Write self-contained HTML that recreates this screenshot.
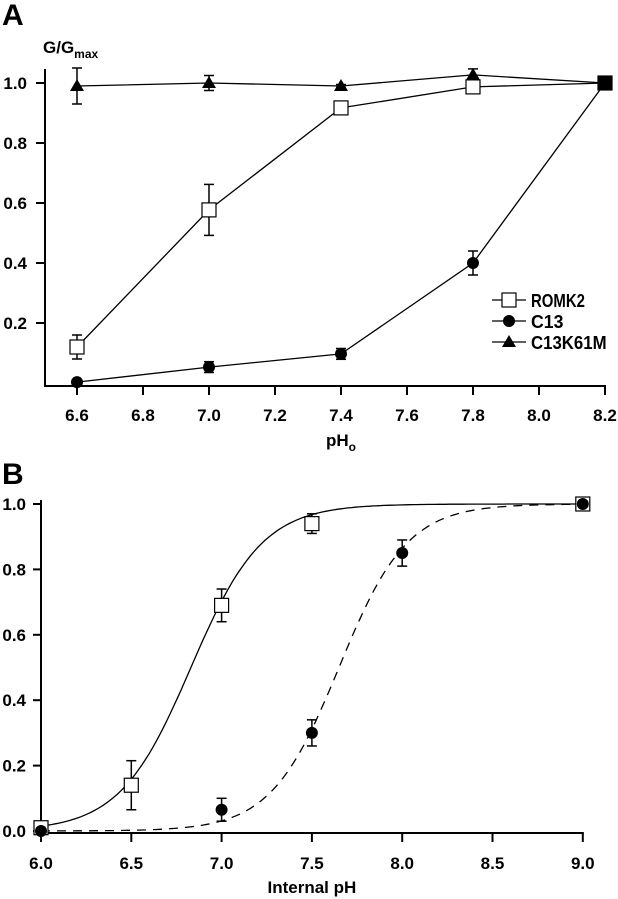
<!DOCTYPE html>
<html><head><meta charset="utf-8"><style>
body{margin:0;background:#fff}
svg{display:block;font-family:"Liberation Sans",Arial,sans-serif}
.t{font-weight:bold;font-size:17px}
</style></head><body>
<svg id="fig" width="618" height="899" viewBox="0 0 618 899" xmlns="http://www.w3.org/2000/svg"></svg>
<script>
// Panel A data
const aX = [6.6, 7.0, 7.4, 7.8, 8.2];
const aRomk2 = [0.12, 0.577, 0.917, 0.987, 1.0];
const aRomk2Err = [0.04, 0.085, 0, 0, 0];
const aC13 = [0.003, 0.053, 0.097, 0.40, 1.0];
const aC13Err = [0, 0.018, 0.018, 0.04, 0];
const aK61 = [0.99, 1.0, 0.99, 1.027, 1.0];
const aK61Err = [0.06, 0.025, 0.005, 0.02, 0];
const aXTicks = [6.6, 6.8, 7.0, 7.2, 7.4, 7.6, 7.8, 8.0, 8.2];
const aYTicks = [0.2, 0.4, 0.6, 0.8, 1.0];
// Panel B data
const bRomk2X = [6.0, 6.5, 7.0, 7.5, 9.0];
const bRomk2 = [0.01, 0.14, 0.69, 0.94, 1.0];
const bRomk2Err = [0, 0.075, 0.05, 0.03, 0];
const bC13X = [6.0, 7.0, 7.5, 8.0, 9.0];
const bC13 = [0.0, 0.065, 0.30, 0.85, 1.0];
const bC13Err = [0, 0.035, 0.04, 0.04, 0];
const bFitPK = [6.83, 7.65];
const bFitN = [2.2, 2.3];
const bXTicks = [6.0, 6.5, 7.0, 7.5, 8.0, 8.5, 9.0];
const bYTicks = [0.0, 0.2, 0.4, 0.6, 0.8, 1.0];

const NS = "http://www.w3.org/2000/svg";
const svg = document.getElementById('fig');
function mk(tag, attrs, parent) {
  const e = document.createElementNS(NS, tag);
  for (const k in attrs) e.setAttribute(k, attrs[k]);
  (parent || svg).appendChild(e);
  return e;
}
function txt(x, y, s, cls, anchor, name) {
  const e = mk('text', {x: x, y: y, class: cls || 't', 'text-anchor': anchor || 'middle'});
  e.textContent = s;
  
  
  return e;
}
const axA = v => 77 + (v - 6.6) / 0.2 * 66;
const ayA = v => 383 - v * 300;
const axB = v => 41 + (v - 6.0) / 0.5 * 90.3;
const ayB = v => 831 - v * 327;

function marker(type, x, y, name) {
  let e;
  if (type === 'sq') e = mk('rect', {x: x - 7, y: y - 7, width: 14, height: 14, fill: '#fff', stroke: '#000', 'stroke-width': 1.2});
  else if (type === 'sqf') e = mk('rect', {x: x - 7, y: y - 7, width: 14, height: 14, fill: '#000'});
  else if (type === 'ci') e = mk('circle', {cx: x, cy: y, r: 6, fill: '#000'});
  else e = mk('polygon', {points: `${x},${y - 7} ${x - 7},${y + 5} ${x + 7},${y + 5}`, fill: '#000'});
  
  
}
function errbar(x, y1, y2, name) {
  const g = mk('g', {stroke: '#000', 'stroke-width': 1.5});
  
  
  mk('line', {x1: x, y1: y1, x2: x, y2: y2}, g);
  mk('line', {x1: x - 5, y1: y1, x2: x + 5, y2: y1}, g);
  mk('line', {x1: x - 5, y1: y2, x2: x + 5, y2: y2}, g);
}
function series(xs, ys, errs, sx, sy, type, name, line) {
  if (line) {
    const l = mk('polyline', {points: xs.map((x, i) => sx(x) + ',' + sy(ys[i])).join(' '), fill: 'none', stroke: '#000', 'stroke-width': 1.3});
    
    
  }
  xs.forEach((x, i) => {
    if (errs[i] > 0) errbar(sx(x), sy(ys[i] + errs[i]), sy(ys[i] - errs[i]), name + '-error-' + i);
  });
  xs.forEach((x, i) => {
    const t = (i === xs.length - 1 && type !== 'sq' && sx === axA) ? 'sqf' : type;
    marker(t, sx(x), sy(ys[i]), name + '-point-' + i);
  });
}

// Panel A axes
txt(2, 25, 'A', 't', 'start', 'panel-a-label').setAttribute('style', 'font-size:30px');
const yl = txt(43, 53, 'G/G', 't', 'start', 'y-axis-title-a');
const sub = mk('tspan', {dy: 5, style: 'font-size:12px'}, yl); sub.textContent = 'max';
let ax = mk('g', {stroke: '#000', 'stroke-width': 2});


mk('line', {x1: 45, y1: 69, x2: 45, y2: 386}, ax);
mk('line', {x1: 44, y1: 386, x2: axA(8.2) + 1, y2: 386}, ax);
aXTicks.forEach(v => { mk('line', {x1: axA(v), y1: 386, x2: axA(v), y2: 395}, ax); txt(axA(v), 421, v.toFixed(1), 't', 'middle', 'x-tick-a'); });
aYTicks.forEach(v => { mk('line', {x1: 36, y1: ayA(v), x2: 45, y2: ayA(v)}, ax); txt(27, ayA(v) + 6, v.toFixed(1), 't', 'end', 'y-tick-a'); });
const xt = txt(axA(7.4), 446, 'pH', 't', 'middle', 'x-axis-title-a');
const s2 = mk('tspan', {dy: 5, style: 'font-size:12px'}, xt); s2.textContent = 'o';

series(aX, aK61, aK61Err, axA, ayA, 'tri', 'c13k61m-a', true);
series(aX, aRomk2, aRomk2Err, axA, ayA, 'sq', 'romk2-a', true);
series(aX, aC13, aC13Err, axA, ayA, 'ci', 'c13-a', true);

// legend
const legNames = ['ROMK2', 'C13', 'C13K61M'];
const legTypes = ['sq', 'ci', 'tri'];
legNames.forEach((n, i) => {
  const y = 300 + i * 21;
  const l = mk('line', {x1: 492, y1: y, x2: 526, y2: y, stroke: '#000', 'stroke-width': 1.2});
  
  
  marker(legTypes[i], 509, y, 'legend-marker-' + n);
  const t = txt(531, y + 7, n, '', 'start', 'legend-entry-' + n);
  t.setAttribute('style', 'font-size:18px');
  t.setAttribute('textLength', n.length * 10.8);
  t.setAttribute('lengthAdjust', 'spacingAndGlyphs');
});

// Panel B axes
txt(2, 484, 'B', 't', 'start', 'panel-b-label').setAttribute('style', 'font-size:30px');
ax = mk('g', {stroke: '#000', 'stroke-width': 2});


mk('line', {x1: 41, y1: 500, x2: 41, y2: 834}, ax);
mk('line', {x1: 40, y1: 833, x2: axB(9) + 1, y2: 833}, ax);
bXTicks.forEach(v => { mk('line', {x1: axB(v), y1: 833, x2: axB(v), y2: 842}, ax); txt(axB(v), 869, v.toFixed(1), 't', 'middle', 'x-tick-b'); });
bYTicks.forEach(v => { mk('line', {x1: 33, y1: ayB(v), x2: 41, y2: ayB(v)}, ax); txt(26, ayB(v) + 6, v.toFixed(1), 't', 'end', 'y-tick-b'); });
txt(axB(7.5), 893, 'Internal pH', 't', 'middle', 'x-axis-title-b');

// fits
['romk2-fit', 'c13-fit'].forEach((n, k) => {
  let pts = [];
  for (let x = 6.0; x <= 9.0001; x += 0.02) {
    const y = 1 / (1 + Math.pow(10, bFitN[k] * (bFitPK[k] - x)));
    pts.push(axB(x).toFixed(1) + ',' + ayB(y).toFixed(1));
  }
  const p = mk('polyline', {points: pts.join(' '), fill: 'none', stroke: '#000', 'stroke-width': 1.3});
  if (k === 1) p.setAttribute('stroke-dasharray', '9,7');
  
  
});
series(bRomk2X, bRomk2, bRomk2Err, axB, ayB, 'sq', 'romk2-b', false);
series(bC13X, bC13, bC13Err, axB, ayB, 'ci', 'c13-b', false);
</script>
</body></html>
